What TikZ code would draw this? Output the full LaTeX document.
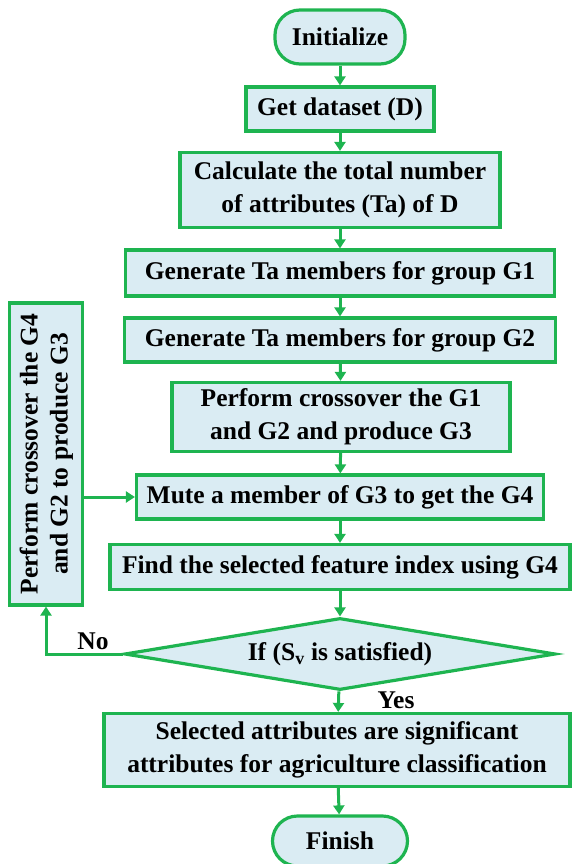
\documentclass[tikz,border=0pt]{standalone}
\usepackage{fontspec}
\setmainfont{Liberation Serif}
\usetikzlibrary{shapes.geometric,arrows.meta}
\definecolor{lg}{RGB}{30,180,80}
\definecolor{lb}{RGB}{218,236,243}
\tikzset{
  box/.style={draw=lg, line width=3.2pt, fill=lb, inner sep=0pt, align=center,
    font=\bfseries\fontsize{25.5}{33}\selectfont},
  term/.style={box, rounded corners=25pt},
  arr/.style={draw=lg, line width=3pt, -{Triangle[length=9pt,width=11pt]}},
  lbl/.style={inner sep=0pt, font=\bfseries\fontsize{25.5}{33}\selectfont}
}
\begin{document}
\begin{tikzpicture}[x=1pt,y=-1pt]
\useasboundingbox (0,0) rectangle (571,864);
\node[term, minimum width=130pt, minimum height=54pt] (init) at (340,37) {Initialize};
\node[box, minimum width=188pt, minimum height=44pt] (get) at (340,109) {Get dataset (D)};
\node[box, minimum width=320pt, minimum height=75pt] (calc) at (340,190) {Calculate the total number\\of attributes (Ta) of D};
\node[box, minimum width=429pt, minimum height=46pt] (g1) at (340,273) {Generate Ta members for group G1};
\node[box, minimum width=431pt, minimum height=44pt] (g2) at (340,340) {Generate Ta members for group G2};
\node[box, minimum width=338pt, minimum height=69pt] (cross) at (341,417) {Perform crossover the G1\\and G2 and produce G3};
\node[box, minimum width=407pt, minimum height=44pt] (mute) at (340,497) {Mute a member of G3 to get the G4};
\node[box, minimum width=460pt, minimum height=45pt] (find) at (340,567) {Find the selected feature index using G4};
\node[box, shape=diamond, aspect=6, minimum width=431pt, minimum height=72pt] (dia) at (340,654) {If (S\textsubscript{v} is satisfied)};
\node[box, minimum width=466pt, minimum height=73pt] (sel) at (337,750) {Selected attributes are significant\\attributes for agriculture classification};
\node[term, minimum width=135pt, minimum height=50pt] (fin) at (340,841) {Finish};
\node[box, minimum width=73pt, minimum height=302pt] (lbox) at (46,454) {\rotatebox{90}{\begin{tabular}{@{}c@{}}Perform crossover the G4\\[-3pt]and G2 to produce G3\end{tabular}}};
\draw[arr] (init) -- (get);
\draw[arr] (get) -- (calc);
\draw[arr] (calc) -- (g1);
\draw[arr] (g1) -- (g2);
\draw[arr] (g2) -- (cross);
\draw[arr] (cross) -- (mute);
\draw[arr] (mute) -- (find);
\draw[arr] (find) -- (dia);
\draw[arr] (dia) -- (sel);
\draw[arr] (sel) -- (fin);
\draw[arr] (dia.west) -| (lbox.south);
\draw[arr] (lbox.east |- mute) -- (mute.west);
\node[lbl] (no) at (93,641) {No};
\node[lbl] (yes) at (396,700) {Yes};
\end{tikzpicture}
\end{document}
